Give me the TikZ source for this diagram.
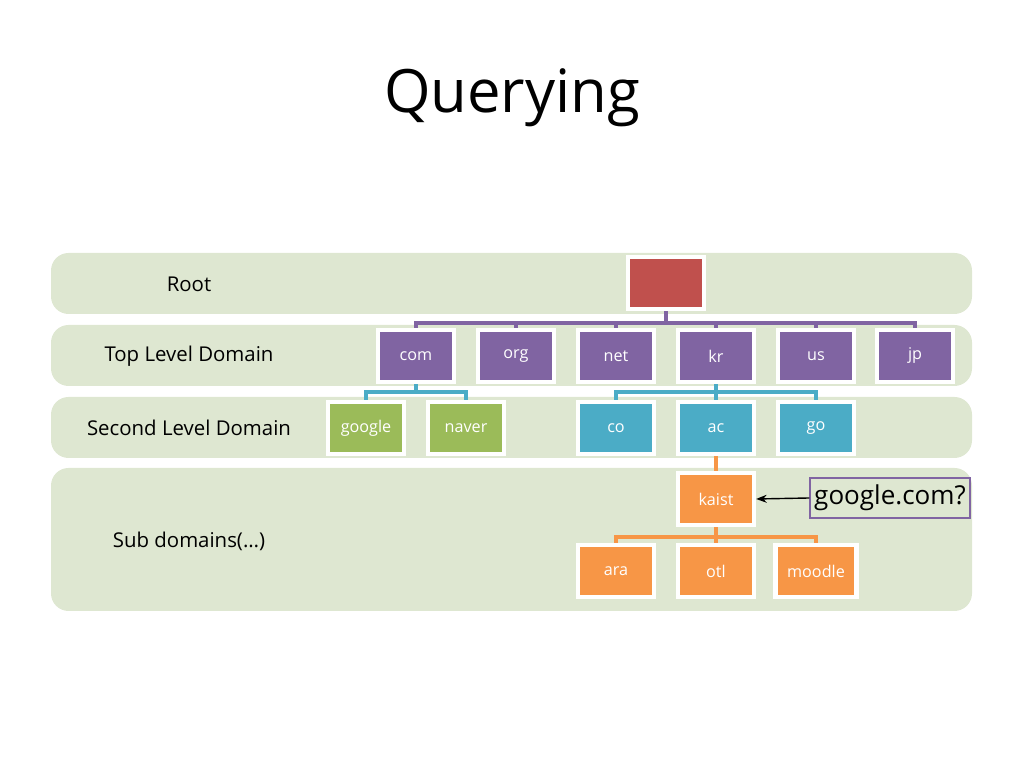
\documentclass[tikz,border=0pt]{standalone}
\usepackage{fontspec}
\setmainfont{Open Sans}
\usetikzlibrary{arrows.meta,shadows}
\definecolor{bandc}{HTML}{DEE7D1}
\definecolor{rootc}{HTML}{C0504D}
\definecolor{tldc}{HTML}{8064A2}
\definecolor{grnc}{HTML}{9BBB59}
\definecolor{bluc}{HTML}{4BACC6}
\definecolor{orgc}{HTML}{F79646}
\begin{document}
\begin{tikzpicture}[x=0.01cm,y=-0.01cm,thick,
  band/.style={fill=bandc,draw=none,rounded corners=5pt},
  dom node/.style={draw=white,line width=1.2pt,minimum width=0.76cm,minimum height=0.52cm,
    text=white,font=\fontsize{4.6pt}{5pt}\selectfont,drop shadow={opacity=0.25,shadow xshift=0.4pt,shadow yshift=-0.4pt}},
  lvl label/.style={font=\fontsize{5.8pt}{7pt}\selectfont},
  link/.style={line width=1.1pt}]
  \useasboundingbox (0,0) rectangle (1024,768);
  \node[font=\fontsize{17pt}{20pt}\selectfont] (title) at (512,98) {Querying};
  % bands
  \fill[band] (51,253) rectangle (972,314);
  \fill[band] (51,325) rectangle (972,386);
  \fill[band] (51,397) rectangle (972,458);
  \fill[band] (51,468) rectangle (972,611);
  \node[lvl label] (l1) at (189,284) {Root};
  \node[lvl label] (l2) at (189,356) {Top Level Domain};
  \node[lvl label] (l3) at (189,428) {Second Level Domain};
  \node[lvl label] (l4) at (189,541) {Sub domains(…)};
  % nodes
  \node[dom node,fill=rootc] (root) at (666,283) {};
  \foreach \n/\x in {com/416,org/516,net/616,kr/716,us/816,jp/915}
    \node[dom node,fill=tldc] (\n) at (\x,356) {\n};
  \node[dom node,fill=grnc] (google) at (366,428) {google};
  \node[dom node,fill=grnc] (naver) at (466,428) {naver};
  \foreach \n/\x in {co/616,ac/716,go/816}
    \node[dom node,fill=bluc] (\n) at (\x,428) {\n};
  \node[dom node,fill=orgc] (kaist) at (716,499) {kaist};
  \foreach \n/\x in {ara/616,otl/716,moodle/816}
    \node[dom node,fill=orgc] (\n) at (\x,571) {\n};
  % links
  \begin{scope}[on background layer/.style={}]
  \foreach \n in {com,org,net,kr,us,jp}
    \draw[link,draw=tldc] (root.south) -- ++(0,12) -| (\n.north);
  \foreach \n in {google,naver}
    \draw[link,draw=bluc] (com.south) -- ++(0,8) -| (\n.north);
  \foreach \n in {co,ac,go}
    \draw[link,draw=bluc] (kr.south) -- ++(0,8) -| (\n.north);
  \draw[link,draw=orgc] (ac.south) -- (kaist.north);
  \foreach \n in {ara,otl,moodle}
    \draw[link,draw=orgc] (kaist.south) -- ++(0,10) -| (\n.north);
  \end{scope}
  % query
  \node[draw=tldc,thin,minimum width=1.6cm,minimum height=0.4cm,inner sep=1pt,
    font=\fontsize{7.4pt}{8pt}\selectfont] (query) at (890,498) {google.com?};
  \draw[-{Stealth[length=3pt]},thin] (query.west) -- (kaist.east);
\end{tikzpicture}
\end{document}
